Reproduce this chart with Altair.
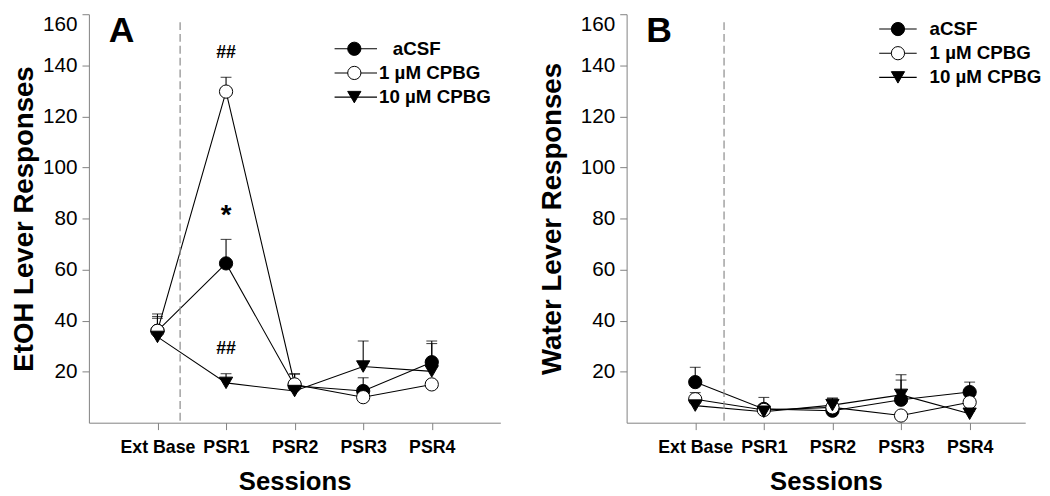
import altair as alt
import pandas as pd

sessions = ["Ext Base", "PSR1", "PSR2", "PSR3", "PSR4"]
groups = ["aCSF", "1 µM CPBG", "10 µM CPBG"]

# Panel A: EtOH lever responses (mean, SEM)
a_acsf = [36.0, 62.4, 14.5, 12.4, 23.7]
a_acsf_err = [5.6, 9.4, 4.7, 5.2, 8.3]
a_c1 = [36.0, 129.7, 15.0, 10.0, 15.0]
a_c1_err = [6.6, 5.6, 4.0, 1.0, 1.5]
a_c10 = [33.6, 15.6, 12.4, 22.0, 20.1]
a_c10_err = [7.3, 3.6, 3.0, 10.0, 10.9]

# Panel B: Water lever responses (mean, SEM)
b_acsf = [15.9, 5.4, 4.7, 9.0, 12.0]
b_acsf_err = [5.8, 4.5, 4.9, 7.7, 3.9]
b_c1 = [9.2, 5.0, 6.0, 2.8, 8.0]
b_c1_err = [2.6, 1.0, 1.0, 1.0, 1.0]
b_c10 = [6.7, 4.3, 6.9, 10.9, 3.5]
b_c10_err = [1.0, 1.0, 2.7, 7.9, 1.0]

y_ticks = [20, 40, 60, 80, 100, 120, 140, 160]
divider_a = 0.33
divider_b = 0.42

FONT = "Liberation Sans"
H = 414

label_expr = "[" + ",".join("'" + s + "'" for s in sessions) + "][datum.value]"


def make_df(series):
    rows = []
    for g, (m, e) in zip(groups, series):
        for i, s in enumerate(sessions):
            rows.append({"group": g, "x": i, "session": s, "mean": m[i], "top": m[i] + e[i]})
    return pd.DataFrame(rows)


shape_scale = alt.Scale(domain=groups, range=["circle", "circle", "triangle-down"])
fill_scale = alt.Scale(domain=groups, range=["black", "white", "black"])


def panel(df, ytitle, letter, divider, legend_pos, ann, ytitle_pad, width, xmax):
    xenc = alt.X("x:Q", scale=alt.Scale(domain=[-1, xmax], nice=False),
                 axis=alt.Axis(values=[0, 1, 2, 3, 4], labelExpr=label_expr, title="Sessions",
                               grid=False, tickSize=7, labelFontSize=18, labelFontWeight="bold",
                               labelPadding=9, titleFontSize=26, titleFontWeight="bold",
                               titlePadding=13, domainColor="#808080", tickColor="#808080",
                               labelFont=FONT, titleFont=FONT, labelColor="black", titleColor="black"))
    ysc = alt.Scale(domain=[0, 160], nice=False)
    yaxis = alt.Axis(values=y_ticks, title=ytitle, grid=False, tickSize=7, labelFontSize=21,
                     labelPadding=5, titleFontSize=28, titleFontWeight="bold", titlePadding=ytitle_pad,
                     labelFlush=True, domainColor="#808080", tickColor="#808080", labelFont=FONT,
                     titleFont=FONT, labelColor="black", titleColor="black")
    base = alt.Chart(df)
    divider_layer = alt.Chart(pd.DataFrame({"x": [divider]})).mark_rule(
        color="#8a8a8a", strokeWidth=1.2, strokeDash=[8, 4]).encode(
        x=alt.X("x:Q"), y=alt.value(8), y2=alt.value(H))
    lines = base.mark_line(color="black", strokeWidth=1.1).encode(
        x=xenc, y=alt.Y("mean:Q", scale=ysc, axis=yaxis), detail="group:N")
    bars = base.mark_rule(color="black", strokeWidth=1.1).encode(
        x="x:Q", y="mean:Q", y2="top:Q")
    caps = base.mark_tick(color="black", thickness=1.1, size=11, orient="horizontal").encode(
        x="x:Q", y="top:Q")
    pts = base.mark_point(size=180, stroke="black", strokeWidth=1, opacity=1).encode(
        x="x:Q", y="mean:Q",
        shape=alt.Shape("group:N", scale=shape_scale, legend=None),
        fill=alt.Fill("group:N", scale=fill_scale, legend=None))
    ann_df = pd.DataFrame(ann)
    ann_layer = alt.Chart(ann_df).mark_text(font=FONT, fontWeight="bold", color="black",
                                            baseline="middle").encode(
        x="x:Q", y=alt.Y("y:Q"), text="t:N", size=alt.Size("fs:Q", scale=None, legend=None))
    lx0, lx1, lsym, ltext, ly0, lstep, first_dx = legend_pos
    leg = pd.DataFrame({"group": groups,
                        "ly": [ly0 + i * lstep for i in range(3)],
                        "lx": [ltext + (first_dx if i == 0 else 0) for i in range(3)]})
    leg_line = alt.Chart(leg).mark_rule(color="black", strokeWidth=1.1).encode(
        x=alt.value(lx0), x2=alt.value(lx1), y=alt.Y("ly:Q", scale=None))
    leg_pt = alt.Chart(leg).mark_point(size=180, stroke="black", strokeWidth=1, opacity=1).encode(
        x=alt.value(lsym), y=alt.Y("ly:Q", scale=None),
        shape=alt.Shape("group:N", scale=shape_scale, legend=None),
        fill=alt.Fill("group:N", scale=fill_scale, legend=None))
    leg_txt = alt.Chart(leg).mark_text(font=FONT, fontWeight="bold", fontSize=19, align="left",
                                       baseline="middle", color="black").encode(
        x=alt.X("lx:Q", scale=None), y=alt.Y("ly:Q", scale=None), text="group:N")
    letter_layer = alt.Chart(pd.DataFrame({"t": [letter]})).mark_text(
        font=FONT, fontWeight="bold", fontSize=36, align="left", baseline="alphabetic",
        color="black").encode(x=alt.value(20), y=alt.value(28), text="t:N")
    return alt.layer(lines, divider_layer, bars, caps, pts, ann_layer, leg_line, leg_pt, leg_txt,
                     letter_layer).properties(width=width, height=H)


df_a = make_df([(a_acsf, a_acsf_err), (a_c1, a_c1_err), (a_c10, a_c10_err)])
df_b = make_df([(b_acsf, b_acsf_err), (b_c1, b_c1_err), (b_c10, b_c10_err)])

ann_a = {"x": [1, 1, 1], "y": [144.6, 81.0, 29.0], "t": ["##", "*", "##"], "fs": [18, 28, 18]}
ann_b = {"x": [], "y": [], "t": [], "fs": []}

pa = panel(df_a, "EtOH Lever Responses", "A", divider_a,
           (249, 292, 269, 294, 35, 24.5, 14), ann_a, 4, 417, 5)
pb = panel(df_b, "Water Lever Responses", "B", divider_b,
           (256, 294, 275, 307, 15, 24.5, 0), ann_b, 14, 404, 4.81)

chart = alt.hconcat(pa, pb, spacing=38).properties(
    padding={"left": 2, "top": 2, "right": 0, "bottom": 0}
).configure_view(stroke=None).resolve_scale(shape="shared", fill="shared")

chart.save("out.html", embed_options={"renderer": "svg", "actions": False})
